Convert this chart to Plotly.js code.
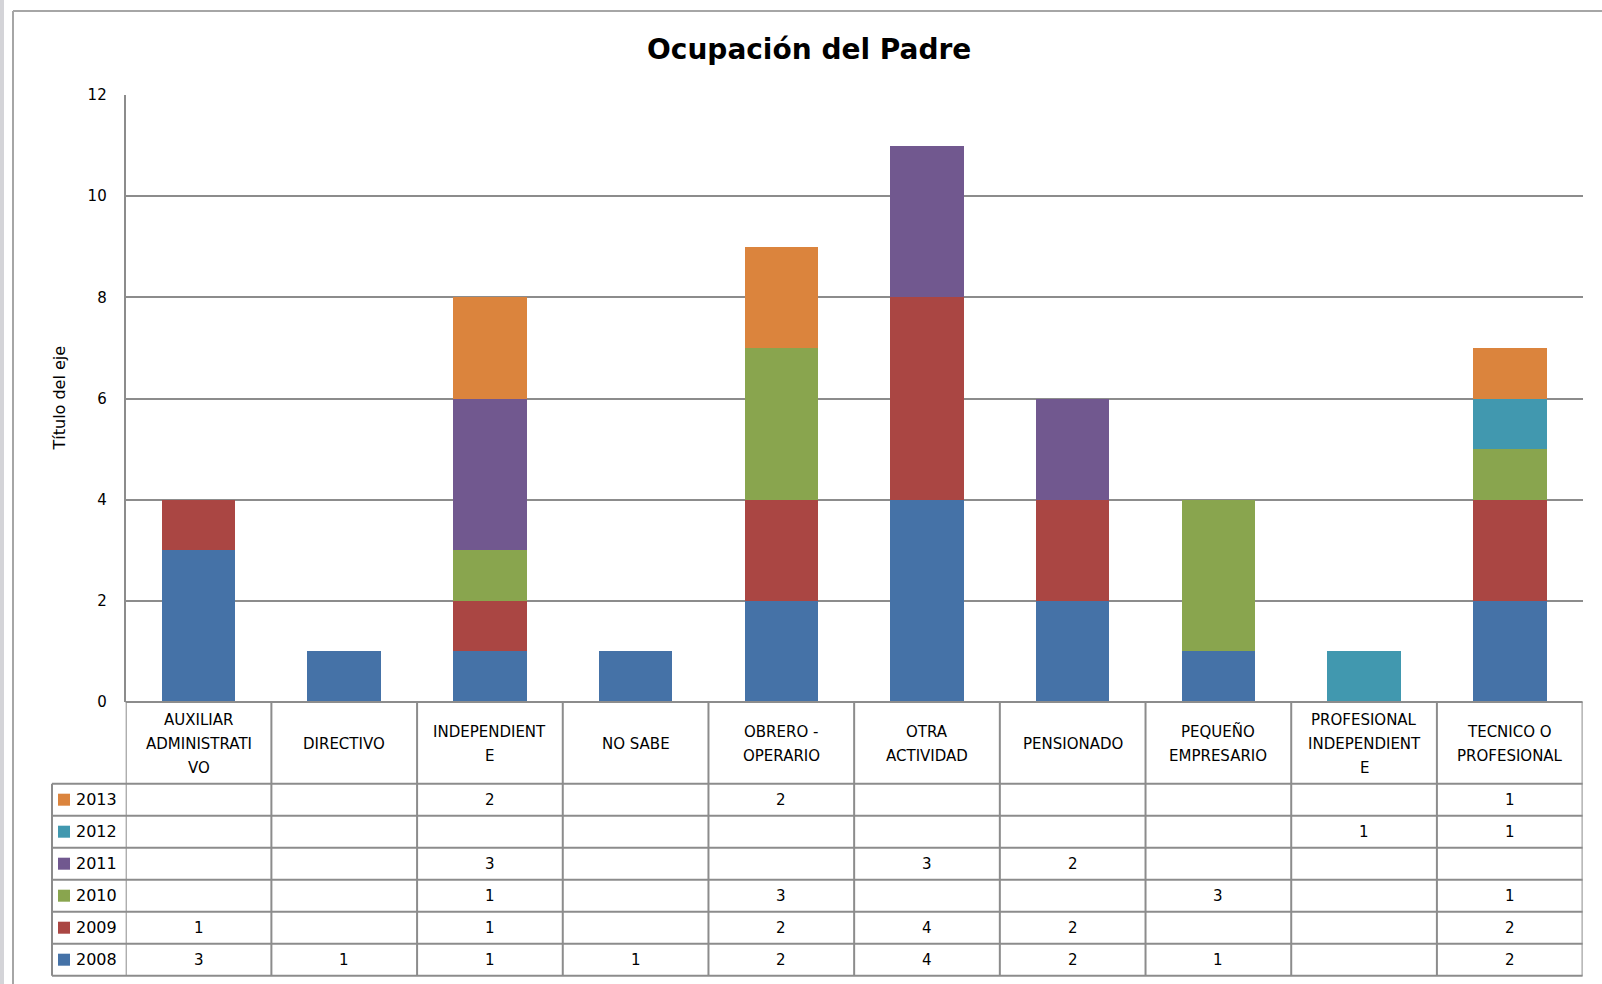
<!DOCTYPE html>
<html><head><meta charset="utf-8">
<script src="https://cdn.plot.ly/plotly-3.0.1.min.js"></script>
<style>html,body{margin:0;padding:0;background:#fff;} #chart{width:1602px;height:984px;}</style>
</head><body><div id="chart"></div>
<script>
const categories = ["AUXILIAR ADMINISTRATIVO","DIRECTIVO","INDEPENDIENTE","NO SABE","OBRERO - OPERARIO","OTRA ACTIVIDAD","PENSIONADO","PEQUEÑO EMPRESARIO","PROFESIONAL INDEPENDIENTE","TECNICO O PROFESIONAL"];
const categoryLabels = [["AUXILIAR","ADMINISTRATI","VO"],["DIRECTIVO"],["INDEPENDIENT","E"],["NO SABE"],["OBRERO -","OPERARIO"],["OTRA","ACTIVIDAD"],["PENSIONADO"],["PEQUEÑO","EMPRESARIO"],["PROFESIONAL","INDEPENDIENT","E"],["TECNICO O","PROFESIONAL"]];
const years = ["2008","2009","2010","2011","2012","2013"];
const v2008 = [3,1,1,1,2,4,2,1,null,2];
const v2009 = [1,null,1,null,2,4,2,null,null,2];
const v2010 = [null,null,1,null,3,null,null,3,null,1];
const v2011 = [null,null,3,null,null,3,2,null,null,null];
const v2012 = [null,null,null,null,null,null,null,null,1,1];
const v2013 = [null,null,2,null,2,null,null,null,null,1];
const colors = ["#4572A7","#AA4643","#89A54E","#71588F","#4198AF","#DB843D"];
const yTicks = [0,2,4,6,8,10,12];
const chartTitle = "Ocupación del Padre";
const yTitle = "Título del eje";

const series = [v2008, v2009, v2010, v2011, v2012, v2013];
const W = 1602, H = 984;
const X = px => px / W;
const Y = py => 1 - py / H;
const plotL = 125.7, plotR = 1582.6, plotT = 95, plotB = 702;
const headB = 783.7, rowH = 32, headLineGap = 24;
const legL = 52;
const lineCol = '#8c8c8c';
const FONT = 'DejaVu Sans';
const tableBottom = headB + rowH * years.length;

const traces = years.map((yr, s) => ({
  type: 'bar', name: yr, x: categories, y: series[s],
  marker: {color: colors[s], line: {width: 0}},
  hoverinfo: 'x+y+name'
}));

const ann = [];
const shapes = [];

// frame
shapes.push({type:'rect', xref:'paper', yref:'paper', x0:X(0), x1:X(4), y0:Y(0), y1:Y(H), fillcolor:'#d4d4d8', line:{width:0}, layer:'below'});
shapes.push({type:'line', xref:'paper', yref:'paper', x0:X(13), x1:X(13), y0:Y(11), y1:Y(H+10), line:{color:'#a6a6a6', width:2}});
shapes.push({type:'line', xref:'paper', yref:'paper', x0:X(13), x1:X(W+10), y0:Y(11), y1:Y(11), line:{color:'#a6a6a6', width:2}});

ann.push({text:'<b>'+chartTitle+'</b>', xref:'paper', yref:'paper', x:X(809), y:Y(49), xanchor:'center', yanchor:'middle', showarrow:false, font:{family:FONT, size:28, color:'#000'}});
ann.push({text:yTitle, xref:'paper', yref:'paper', x:X(59), y:Y((plotT+plotB)/2), xanchor:'center', yanchor:'middle', textangle:-90, showarrow:false, font:{family:FONT, size:16, color:'#000'}});

// table verticals
for (let i = 0; i <= categories.length; i++) {
  shapes.push({type:'line', xref:'x', yref:'paper', x0:i-0.5, x1:i-0.5, y0:Y(plotB), y1:Y(tableBottom), line:{color:lineCol, width:2}});
}
// table horizontals
shapes.push({type:'line', xref:'paper', yref:'paper', x0:X(plotL), x1:X(plotR), y0:Y(plotB), y1:Y(plotB), line:{color:lineCol, width:2}});
for (let r = 0; r <= years.length; r++) {
  const yy = headB + r*rowH;
  shapes.push({type:'line', xref:'paper', yref:'paper', x0:X(legL), x1:X(plotR), y0:Y(yy), y1:Y(yy), line:{color:lineCol, width:2}});
}
shapes.push({type:'line', xref:'paper', yref:'paper', x0:X(legL), x1:X(legL), y0:Y(headB), y1:Y(tableBottom), line:{color:lineCol, width:2}});

// header labels
categoryLabels.forEach((lines, i) => {
  const n = lines.length;
  lines.forEach((t, k) => {
    const yc = (plotB + headB)/2 + 1 + (k - (n-1)/2) * headLineGap;
    ann.push({text:t, xref:'x', yref:'paper', x:categories[i], y:Y(yc), xanchor:'center', yanchor:'middle', showarrow:false, font:{family:FONT, size:15, color:'#000'}});
  });
});

// data rows (top: latest year)
for (let r = 0; r < years.length; r++) {
  const s = years.length - 1 - r;
  const yc = headB + rowH*(r+0.5);
  shapes.push({type:'rect', xref:'paper', yref:'paper', x0:X(58), x1:X(70), y0:Y(yc+6), y1:Y(yc-6), fillcolor:colors[s], line:{width:0}});
  ann.push({text:years[s], xref:'paper', yref:'paper', x:X(74), y:Y(yc), xanchor:'left', yanchor:'middle', showarrow:false, font:{family:FONT, size:16, color:'#000'}});
  series[s].forEach((v, i) => {
    if (v !== null) {
      ann.push({text:String(v), xref:'x', yref:'paper', x:categories[i], y:Y(yc), xanchor:'center', yanchor:'middle', showarrow:false, font:{family:FONT, size:15, color:'#000'}});
    }
  });
}

const layout = {
  width: W, height: H,
  margin: {l:0, r:0, t:0, b:0},
  paper_bgcolor: '#fff', plot_bgcolor: '#fff',
  barmode: 'stack', bargap: 0.495,
  showlegend: false,
  xaxis: {domain:[X(plotL), X(plotR)], type:'category', range:[-0.5, categories.length-0.5], showticklabels:false, showgrid:false, zeroline:false, showline:false, fixedrange:true},
  yaxis: {domain:[Y(plotB), Y(plotT)], range:[0,12], tickvals:yTicks, gridcolor:lineCol, gridwidth:2, showline:true, linecolor:lineCol, linewidth:2, zeroline:false, ticks:'', ticklabelstandoff:14, tickfont:{family:FONT, size:15, color:'#000'}, fixedrange:true},
  shapes: shapes,
  annotations: ann
};

Plotly.newPlot('chart', traces, layout, {displayModeBar:false, staticPlot:true});
</script>
</body></html>
